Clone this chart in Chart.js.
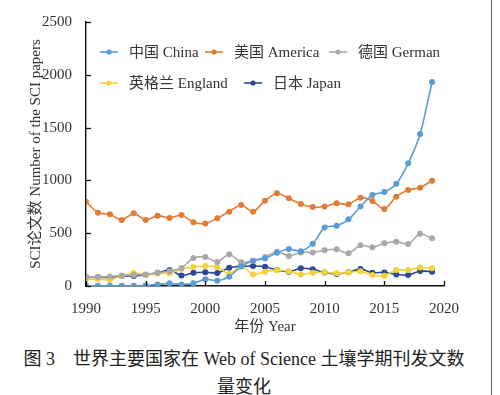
<!DOCTYPE html>
<html><head><meta charset="utf-8">
<script src="https://cdn.jsdelivr.net/npm/chart.js@4"></script>
<style>
html,body{margin:0;padding:0;background:#fff;}
#wrap{position:relative;width:500px;height:395px;overflow:hidden;background:#fff;}
#c{position:absolute;left:0;top:0;}
.cap{position:absolute;left:0;width:488px;text-align:center;font-family:"Liberation Serif","Noto Sans CJK SC",serif;font-size:18px;color:#222;white-space:nowrap;}
#edge{position:absolute;left:491px;top:0;width:1px;height:395px;background:#666;}
</style></head><body>
<div id="wrap">
<canvas id="c" width="500" height="340"></canvas>
<div class="cap" style="top:344px">图 3　世界主要国家在 Web of Science 土壤学期刊发文数</div>
<div class="cap" style="top:372px">量变化</div>
<div id="edge"></div>
</div>
<script>
const years = [1990,1991,1992,1993,1994,1995,1996,1997,1998,1999,2000,2001,2002,2003,2004,2005,2006,2007,2008,2009,2010,2011,2012,2013,2014,2015,2016,2017,2018,2019];
const china   = [2,2,2,3,3,4,15,25,15,25,65,50,88,185,240,260,315,350,330,400,555,570,631,753,862,890,968,1162,1439,1932];
const america = [798,694,679,625,688,625,666,644,672,603,592,641,704,767,704,808,878,830,776,748,753,783,773,836,805,729,846,909,931,997];
const germany = [80,85,90,100,105,110,125,140,170,265,275,228,300,225,240,275,325,285,318,318,338,348,309,385,366,404,420,398,494,452];
const england = [65,63,60,95,126,104,118,120,160,180,190,180,115,190,110,136,150,140,110,125,130,120,128,140,104,98,151,151,175,167];
const japan   = [82,82,82,95,95,104,126,151,100,126,130,123,173,186,189,183,151,136,167,158,128,114,130,160,126,129,110,104,142,136];
const seriesNames = ["中国 China","美国 America","德国 German","英格兰 England","日本 Japan"];
const yTicks = [0,500,1000,1500,2000,2500];
const xTicks = [1990,1995,2000,2005,2010,2015,2020];

const colors = ["#5b9bd5","#e47b35","#a8a8a8","#f2d13a","#2c4a94"];
const seriesData = [china, america, germany, england, japan];
const FONT = '"Liberation Serif","Noto Sans CJK SC",serif';

const datasets = seriesData.map((arr, i) => ({
  label: seriesNames[i],
  data: arr.map((v, k) => ({x: years[k], y: v})),
  borderColor: colors[i],
  backgroundColor: colors[i],
  borderWidth: 1.6,
  pointRadius: 3,
  pointBorderWidth: 0,
  pointBackgroundColor: colors[i],
  tension: 0.25
}));

const legendPos = [[100,52],[205,52],[329,52],[100,83],[244,83]];

const customPlugin = {
  id: 'custom',
  afterDraw(chart) {
    const ctx = chart.ctx;
    const xs = chart.scales.x, ys = chart.scales.y;
    ctx.save();
    ctx.strokeStyle = '#111';
    ctx.lineWidth = 1.3;
    xTicks.forEach(t => {
      const px = Math.round(xs.getPixelForValue(t)) + 0.5;
      ctx.beginPath(); ctx.moveTo(px, xs.top); ctx.lineTo(px, xs.top - 5); ctx.stroke();
    });
    yTicks.forEach(t => {
      const py = Math.round(ys.getPixelForValue(t)) + 0.5;
      ctx.beginPath(); ctx.moveTo(ys.right, py); ctx.lineTo(ys.right + 5, py); ctx.stroke();
    });
    ctx.font = '15px ' + FONT;
    ctx.textBaseline = 'middle';
    ctx.textAlign = 'left';
    chart.data.datasets.forEach((ds, i) => {
      const [lx, ly] = legendPos[i];
      ctx.strokeStyle = ds.borderColor;
      ctx.lineWidth = 1.6;
      ctx.beginPath(); ctx.moveTo(lx, ly); ctx.lineTo(lx + 18, ly); ctx.stroke();
      ctx.fillStyle = ds.borderColor;
      ctx.beginPath(); ctx.arc(lx + 9, ly, 2.6, 0, Math.PI * 2); ctx.fill();
      ctx.fillStyle = '#333';
      ctx.fillText(ds.label, lx + 29, ly + 1);
    });
    ctx.restore();
  }
};

new Chart(document.getElementById('c'), {
  type: 'line',
  data: { datasets },
  options: {
    responsive: false,
    animation: false,
    layout: { padding: { left: 0, right: 56, top: 22, bottom: 4 } },
    plugins: { legend: { display: false }, tooltip: { enabled: false } },
    scales: {
      x: {
        type: 'linear',
        min: 1990, max: 2020,
        afterFit(s) { s.height = 50; },
        afterBuildTicks(s) { s.ticks = xTicks.map(v => ({value: v})); },
        grid: { display: false },
        border: { display: true, color: '#111', width: 1.4 },
        ticks: { color: '#333', padding: 6, font: { family: FONT, size: 15 }, callback: v => String(v), maxRotation: 0 },
        title: { display: true, text: '年份 Year', color: '#333', font: { family: FONT, size: 15 }, padding: { top: 7, bottom: 0 } }
      },
      y: {
        min: 0, max: 2500,
        afterFit(s) { s.width = 86; },
        afterBuildTicks(s) { s.ticks = yTicks.map(v => ({value: v})); },
        grid: { display: false },
        border: { display: true, color: '#111', width: 1.4 },
        ticks: { color: '#333', padding: 6, font: { family: FONT, size: 15 }, callback: v => String(v) },
        title: { display: true, text: 'SCI论文数 Number of the SCI papers', color: '#333', font: { family: FONT, size: 15 }, padding: { top: 27, bottom: 0 } }
      }
    }
  },
  plugins: [customPlugin]
});
</script>
</body></html>
